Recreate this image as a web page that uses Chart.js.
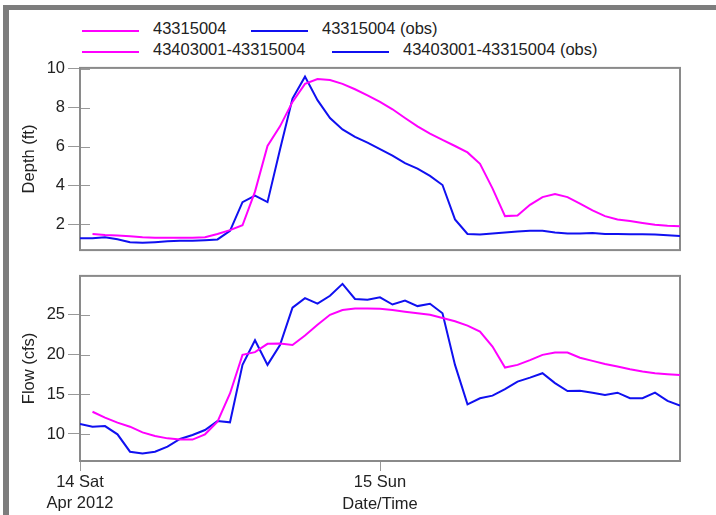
<!DOCTYPE html>
<html>
<head>
<meta charset="utf-8">
<script src="https://cdn.jsdelivr.net/npm/chart.js@4"></script>
<style>
  body { margin: 0; background: #fff; width: 716px; height: 515px; overflow: hidden; position: relative;
         font-family: 'Liberation Sans', Arial, sans-serif; color: #222; }
  #frame { position: absolute; left: 3px; top: 5px; right: 0; bottom: 0;
           border-top: 5px solid #7d7d7d; border-left: 6px solid #7d7d7d; }
  .item { position: absolute; height: 20px; line-height: 20px; font-size: 16.5px; white-space: nowrap; }
  .item span.ln { display: inline-block; width: 57px; height: 2px; vertical-align: middle; margin-right: 14px; position: relative; top: 1px; }
  canvas { position: absolute; left: 0; }
</style>
</head>
<body>
<div id="frame"></div>
<div class="item" style="left:82px; top:18px"><span class="ln" style="background:#ff00ff"></span>43315004</div>
<div class="item" style="left:251px; top:18px"><span class="ln" style="background:#1010f0"></span>43315004 (obs)</div>
<div class="item" style="left:82px; top:39px"><span class="ln" style="background:#ff00ff"></span>43403001-43315004</div>
<div class="item" style="left:332px; top:39px"><span class="ln" style="background:#1010f0"></span>43403001-43315004 (obs)</div>

<canvas id="depthChart" width="716" height="208" style="top:55px"></canvas>
<canvas id="flowChart" width="716" height="252" style="top:263px"></canvas>

<script>
// hours since 14 Apr 2012 00:00
var hours = [0,1,2,3,4,5,6,7,8,9,10,11,12,13,14,15,16,17,18,19,20,21,22,23,24,
             25,26,27,28,29,30,31,32,33,34,35,36,37,38,39,40,41,42,43,44,45,46,47,48]

// depth at node 43315004 (ft)
var depthModel = [null,1.5,1.45,1.42,1.38,1.33,1.31,1.3,1.3,1.3,1.33,1.5,
                  1.7,1.95,3.68,6.03,7.04,8.3,9.23,9.48,9.43,9.23,8.95,8.64,8.3,
                  7.92,7.47,7.04,6.67,6.34,6.03,5.7,5.11,3.85,2.42,2.45,3.0,
                  3.4,3.56,3.4,3.06,2.71,2.42,2.25,2.17,2.07,1.98,1.92,1.9]
var depthObs = [1.28,1.28,1.33,1.23,1.08,1.05,1.08,1.12,1.15,1.15,1.18,1.22,
                1.66,3.14,3.48,3.14,5.85,8.47,9.6,8.39,7.47,6.88,6.5,6.2,5.87,
                5.53,5.15,4.86,4.49,4.02,2.25,1.5,1.47,1.53,1.58,1.63,1.66,
                1.66,1.58,1.53,1.53,1.55,1.5,1.5,1.48,1.48,1.47,1.44,1.4]

// flow in link 43403001-43315004 (cfs)
var flowModel = [null,12.8,12.06,11.43,10.92,10.2,9.75,9.45,9.3,9.3,9.96,11.55,
                 15.1,19.96,20.3,21.35,21.4,21.2,22.4,23.75,25.0,25.6,25.8,25.8,25.75,
                 25.6,25.4,25.2,25.0,24.6,24.2,23.65,22.9,21.0,18.36,18.7,19.3,
                 19.96,20.25,20.25,19.6,19.2,18.8,18.5,18.15,17.86,17.65,17.53,17.44]
var flowObs = [11.26,10.92,11.0,9.96,7.77,7.56,7.77,8.4,9.37,9.87,10.5,11.64,
               11.47,18.7,21.8,18.7,21.2,25.9,27.1,26.4,27.4,28.9,27.0,26.9,27.2,
               26.3,26.8,26.1,26.4,25.2,18.7,13.74,14.5,14.83,15.64,16.6,17.1,
               17.65,16.4,15.4,15.45,15.2,14.9,15.2,14.5,14.5,15.2,14.16,13.57]

var xTicks = [0, 24]
var xTickLabels = [['14 Sat', 'Apr 2012'], '15 Sun']

var MAGENTA = '#ff00ff'
var BLUE = '#1010f0'
var FONT = "'Liberation Sans', Arial, sans-serif"

function toPoints(values) {
  var pts = []
  for (var i = 0; i < hours.length; i++) {
    if (values[i] != null) pts.push({ x: hours[i], y: values[i] })
  }
  return pts
}

// plot box + short tick stubs inside the left axis
var boxPlugin = {
  id: 'box',
  beforeDatasetsDraw(chart) {
    var ctx = chart.ctx, a = chart.chartArea, y = chart.scales.y
    ctx.save()
    ctx.strokeStyle = '#999'
    ctx.lineWidth = 1
    y.ticks.forEach(function (t) {
      var py = Math.round(y.getPixelForValue(t.value)) + 0.5
      ctx.beginPath()
      ctx.moveTo(a.left, py)
      ctx.lineTo(a.left + 10, py)
      ctx.stroke()
    })
    ctx.strokeStyle = '#8a8a8a'
    ctx.lineWidth = 2
    ctx.strokeRect(a.left, a.top, a.right - a.left, a.bottom - a.top)
    ctx.restore()
  }
}

function yScale(min, max, step, title) {
  return {
    min: min, max: max,
    afterFit: function (s) { s.width = 80 },
    ticks: { stepSize: step, includeBounds: false, padding: 3, color: '#222', font: { family: FONT, size: 16.5 } },
    grid: { drawOnChartArea: false, tickLength: 12, color: '#999' },
    border: { display: false },
    title: { display: true, text: title, color: '#222', padding: { top: 20, bottom: 0 }, font: { family: FONT, size: 16.5 } }
  }
}

function lineSet(label, values, color) {
  return { label: label, data: toPoints(values), borderColor: color, backgroundColor: color,
           borderWidth: 2, pointRadius: 0, tension: 0, fill: false }
}

new Chart(document.getElementById('depthChart'), {
  type: 'line',
  data: {
    datasets: [
      lineSet('43315004', depthModel, MAGENTA),
      lineSet('43315004 (obs)', depthObs, BLUE)
    ]
  },
  options: {
    responsive: false,
    animation: false,
    devicePixelRatio: 1,
    layout: { padding: { top: 11, bottom: 10, left: 0, right: 36 } },
    plugins: { legend: { display: false }, tooltip: { enabled: false } },
    scales: {
      x: { type: 'linear', min: 0, max: 48, display: false },
      y: yScale(0.67, 10.05, 2, 'Depth (ft)')
    }
  },
  plugins: [boxPlugin]
})

new Chart(document.getElementById('flowChart'), {
  type: 'line',
  data: {
    datasets: [
      lineSet('43403001-43315004', flowModel, MAGENTA),
      lineSet('43403001-43315004 (obs)', flowObs, BLUE)
    ]
  },
  options: {
    responsive: false,
    animation: false,
    devicePixelRatio: 1,
    layout: { padding: { top: 12, bottom: 0, left: 0, right: 36 } },
    plugins: { legend: { display: false }, tooltip: { enabled: false } },
    scales: {
      x: {
        type: 'linear', min: 0, max: 48,
        afterBuildTicks: function (s) { s.ticks = xTicks.map(function (v) { return { value: v } }) },
        afterFit: function (s) { s.height = 54 },
        ticks: {
          autoSkip: false, maxRotation: 0, padding: 1, color: '#222',
          font: { family: FONT, size: 16.5, lineHeight: 1.27 },
          callback: function (v) { return xTickLabels[xTicks.indexOf(v)] }
        },
        grid: { drawOnChartArea: false, tickLength: 10, color: '#999' },
        border: { display: false },
        title: { display: true, text: 'Date/Time', color: '#222', padding: { top: 0, bottom: 1 }, font: { family: FONT, size: 16.5 } }
      },
      y: yScale(6.6, 29.9, 5, 'Flow (cfs)')
    }
  },
  plugins: [boxPlugin]
})
</script>
</body>
</html>
